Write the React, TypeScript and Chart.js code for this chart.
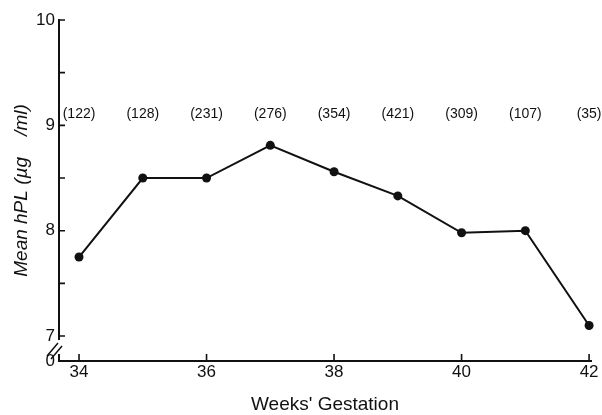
import React, { useEffect, useRef } from "react";
import { Chart, registerables } from "chart.js";

Chart.register(...registerables);

// ---- data ----
const weeks = [34, 35, 36, 37, 38, 39, 40, 41, 42];
const meanHPL = [7.75, 8.5, 8.5, 8.81, 8.56, 8.33, 7.98, 8.0, 7.1];
const sampleSizes = [122, 128, 231, 276, 354, 421, 309, 107, 35];
const xTickValues = [34, 36, 38, 40, 42];
const yTickValues = [7, 7.5, 8, 8.5, 9, 9.5, 10];
const yLabelledValues = [7, 8, 9, 10];
const yBreakBase = 6.763; // bottom of broken axis, labelled "0"
const annotationLevel = 9.11;
const xMin = 33.686;
const xMax = 42.03;
const yMax = 10;

const FONT = "'Liberation Sans', Arial, Helvetica, sans-serif";
const INK = "#111";

const decorPlugin = {
  id: "decor",
  afterDraw(chart: any) {
    const { ctx, chartArea, scales } = chart;
    const xs = scales.x;
    const ys = scales.y;
    const left = chartArea.left;
    const bottom = chartArea.bottom;
    ctx.save();
    ctx.strokeStyle = INK;
    ctx.lineWidth = 1.6;
    // inward tick marks
    ctx.beginPath();
    for (const v of xTickValues) {
      const px = xs.getPixelForValue(v);
      ctx.moveTo(px, bottom);
      ctx.lineTo(px, bottom - 7);
    }
    for (const v of yTickValues) {
      const py = ys.getPixelForValue(v);
      ctx.moveTo(left, py);
      ctx.lineTo(left + 6, py);
    }
    ctx.stroke();

    // axis break
    const y7 = ys.getPixelForValue(7);
    ctx.fillStyle = "#fff";
    ctx.fillRect(left - 3, y7 + 4, 6, bottom - y7 - 11);
    ctx.beginPath();
    ctx.lineWidth = 1.5;
    ctx.moveTo(left - 12, bottom - 5);
    ctx.lineTo(left - 1, bottom - 18);
    ctx.moveTo(left - 8, bottom - 2);
    ctx.lineTo(left + 3, bottom - 15);
    ctx.stroke();

    // sample size annotations
    ctx.fillStyle = INK;
    ctx.font = `14px ${FONT}`;
    ctx.textAlign = "center";
    ctx.textBaseline = "middle";
    const ay = ys.getPixelForValue(annotationLevel);
    sampleSizes.forEach((n, i) => {
      ctx.fillText(`(${n})`, xs.getPixelForValue(weeks[i]), ay);
    });
    ctx.restore();
  },
};

export default function App() {
  const canvasRef = useRef<HTMLCanvasElement | null>(null);

  useEffect(() => {
    document.body.style.margin = "0";
    const canvas = canvasRef.current;
    if (!canvas) return;
    const chart = new Chart(canvas, {
      type: "line",
      data: {
        datasets: [
          {
            data: weeks.map((w, i) => ({ x: w, y: meanHPL[i] })),
            borderColor: INK,
            backgroundColor: INK,
            borderWidth: 2,
            pointRadius: 4.5,
            pointBackgroundColor: INK,
            pointBorderWidth: 0,
            tension: 0,
            clip: 12,
          } as any,
        ],
      },
      options: {
        animation: false,
        responsive: false,
        maintainAspectRatio: false,
        events: [],
        layout: {
          padding: { top: 20, right: 11, left: 0, bottom: 0 },
          autoPadding: false,
        } as any,
        plugins: {
          legend: { display: false },
          tooltip: { enabled: false },
        },
        scales: {
          x: {
            type: "linear",
            min: xMin,
            max: xMax,
            afterFit: (s: any) => {
              s.height = 54;
            },
            afterBuildTicks: (s: any) => {
              s.ticks = xTickValues.map((value) => ({ value }));
            },
            grid: { display: true, drawOnChartArea: false, drawTicks: false, color: "rgba(0,0,0,0)" },
            border: { display: true, color: INK, width: 2 },
            ticks: {
              color: INK,
              font: { family: FONT, size: 17 },
              padding: 1,
              maxRotation: 0,
              autoSkip: false,
            },
            title: {
              display: true,
              text: "Weeks' Gestation",
              color: INK,
              font: { family: FONT, size: 19, lineHeight: 1.1 },
              padding: { top: 0, bottom: 0 },
            },
          },
          y: {
            type: "linear",
            min: yBreakBase,
            max: yMax,
            afterFit: (s: any) => {
              s.width = 59;
            },
            afterBuildTicks: (s: any) => {
              s.ticks = [yBreakBase, ...yTickValues].map((value) => ({ value }));
            },
            grid: { display: true, drawOnChartArea: false, drawTicks: false, color: "rgba(0,0,0,0)" },
            border: { display: true, color: INK, width: 2 },
            ticks: {
              color: INK,
              font: { family: FONT, size: 17 },
              padding: 4,
              autoSkip: false,
              callback: (value: any) => {
                const v = Number(value);
                if (v === yBreakBase) return "0";
                return yLabelledValues.includes(v) ? String(v) : "";
              },
            },
            title: {
              display: true,
              text: "Mean hPL (\u00b5g    /ml)",
              color: INK,
              font: { family: FONT, size: 19, style: "italic", lineHeight: 1.1 },
              padding: { top: 11, bottom: 0 },
            },
          },
        },
      },
      plugins: [decorPlugin],
    });
    return () => chart.destroy();
  }, []);

  return (
    <div style={{ width: 602, height: 415 }}>
      <canvas ref={canvasRef} width={602} height={415} style={{ display: "block" }} />
    </div>
  );
}
